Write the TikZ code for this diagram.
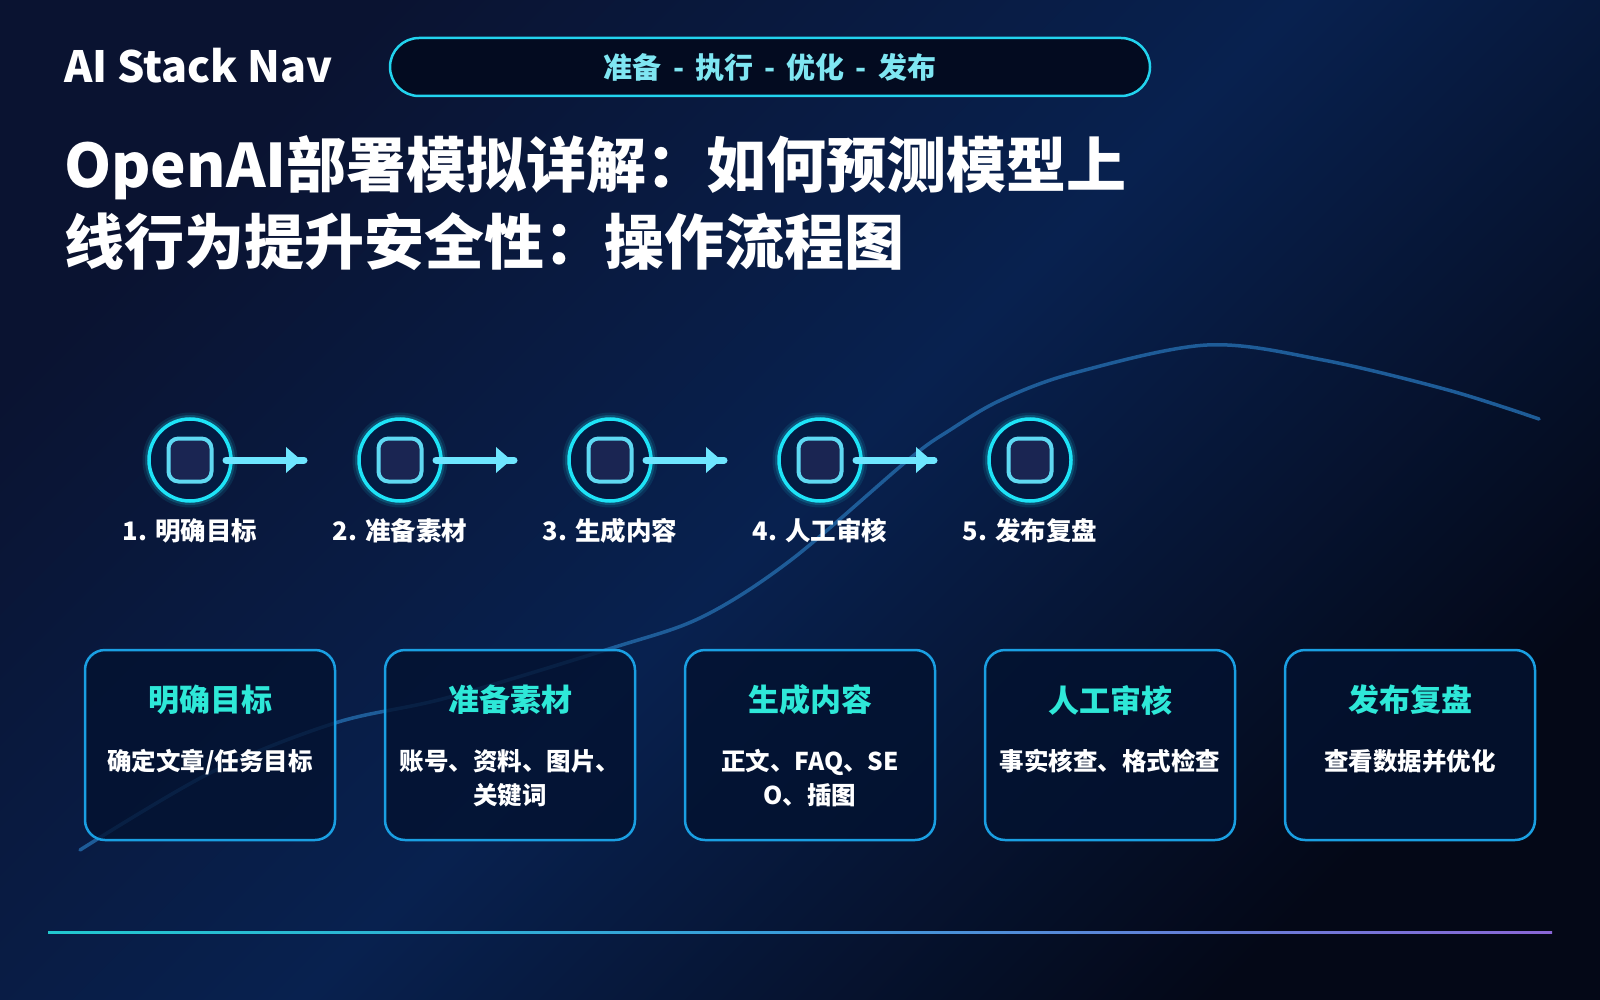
\documentclass[tikz,border=0pt]{standalone}
\usepackage{fontspec}
\setmainfont{Noto Sans CJK SC}
\usetikzlibrary{calc}
\definecolor{bgA}{HTML}{0A1331}
\definecolor{bgB}{HTML}{08214F}
\definecolor{bgC}{HTML}{040817}
\definecolor{pillborder}{HTML}{22D3EE}
\definecolor{pillfill}{HTML}{030B20}
\definecolor{pilltext}{HTML}{7FE6F2}
\definecolor{ring}{HTML}{1EE3F7}
\definecolor{circfill}{HTML}{041B42}
\definecolor{sqborder}{HTML}{5FD9F2}
\definecolor{sqfill}{HTML}{1A2552}
\definecolor{arrowc}{HTML}{6EE6FF}
\definecolor{cardborder}{HTML}{1A9FE2}
\definecolor{cardfill}{HTML}{031230}
\definecolor{cardtitle}{HTML}{2EE8D8}
\definecolor{curvec}{HTML}{1E5C98}
\definecolor{lineA}{HTML}{22C8CF}
\definecolor{lineB}{HTML}{3A9BD9}
\definecolor{lineC}{HTML}{8A66D6}
\begin{document}
\begin{tikzpicture}[x=1pt,y=-1pt,
  stepcircle/.style={circle, minimum size=82pt, inner sep=0, fill=circfill, draw=ring, line width=3.5pt,
    preaction={draw=ring, line width=13pt, draw opacity=0.10},
    preaction={draw=ring, line width=8pt, draw opacity=0.18}},
  innersq/.style={rectangle, minimum size=43pt, inner sep=0, rounded corners=10pt, fill=sqfill, draw=sqborder, line width=4pt},
  arrowline/.style={draw=arrowc, line width=7pt, line cap=round},
  steplabel/.style={font=\bfseries\fontsize{25.5}{30}\selectfont, text=white, inner sep=0},
  card/.style={rectangle, minimum width=250pt, minimum height=190pt, inner sep=0, rounded corners=20pt, draw=cardborder, line width=2.5pt, fill=cardfill, fill opacity=0.8},
  cardhead/.style={font=\bfseries\fontsize{31}{36}\selectfont, text=cardtitle, inner sep=0},
  cardbody/.style={font=\bfseries\fontsize{24.5}{34}\selectfont, text=white, align=center, inner sep=0},
]
\useasboundingbox (0,0) rectangle (1600,1000);
% background
\shade[top color=bgA, bottom color=bgC, middle color=bgB, shading angle=45] (0,0) rectangle (1600,1000);

% header
\node[anchor=west, font=\bfseries\fontsize{43}{48}\selectfont, text=white, inner sep=0] (brand) at (64,66) {AI Stack Nav};
\node[rectangle, rounded corners=29pt, minimum width=760pt, minimum height=58pt, draw=pillborder, line width=2.5pt, fill=pillfill] (pill) at (770,67) {};
\node[font=\bfseries\fontsize{29}{34}\selectfont, text=pilltext, inner sep=0] (pilltxt) at (pill)
  {准备\hspace{4.5pt} - \hspace{4.5pt}执行\hspace{4.5pt} - \hspace{4.5pt}优化\hspace{4.5pt} - \hspace{4.5pt}发布};

% title (base anchor = baseline of last line)
\node[anchor=base west, align=left, font=\bfseries\fontsize{60}{77}\selectfont, text=white, inner sep=0] (title) at (64,265)
  {OpenAI部署模拟详解：如何预测模型上\\线行为提升安全性：操作流程图};

% decorative curve
\draw[curvec, line width=3.5pt, line cap=round] plot[smooth, tension=0.55] coordinates
  {(80,850) (210,773) (335,723) (446,698) (612,648) (702,617) (791,560) (908,460) (950,430) (1001,400) (1074,373) (1207,345) (1323,360) (1448,390) (1539,419)};

% steps
\foreach \i/\x/\lab in {1/190/{1. 明确目标},2/400/{2. 准备素材},3/610/{3. 生成内容},4/820/{4. 人工审核},5/1030/{5. 发布复盘}}{
  \node[stepcircle] (c\i) at (\x,460) {};
  \node[innersq] (s\i) at (c\i) {};
  \node[steplabel] (l\i) at (\x,531) {\lab};
}
\foreach \i in {1,...,4}{
  \draw[arrowline] ($(c\i)+(36,0)$) -- ($(c\i)+(114,0)$) coordinate (a\i);
  \fill[arrowc] ($(a\i)+(-18,-13)$) -- ($(a\i)+(-3,0)$) -- ($(a\i)+(-18,13)$) -- cycle;
}

% cards
\foreach \i/\x/\head/\body/\by in {
  1/210/明确目标/{确定文章/任务目标}/770,
  2/510/准备素材/{账号、资料、图片、\\关键词}/804,
  3/810/生成内容/{正文、FAQ、SE\\O、插图}/804,
  4/1110/人工审核/{事实核查、格式检查}/770,
  5/1410/发布复盘/{查看数据并优化}/770}{
  \node[card] (k\i) at (\x,745) {};
  \node[cardhead] (h\i) at (\x,700) {\head};
  \node[cardbody, anchor=base] (b\i) at (\x,\by) {\body};
}

% bottom rule
\shade[left color=lineA, right color=lineC, middle color=lineB] (48,931.5) rectangle (1552,933.5);
\end{tikzpicture}
\end{document}
